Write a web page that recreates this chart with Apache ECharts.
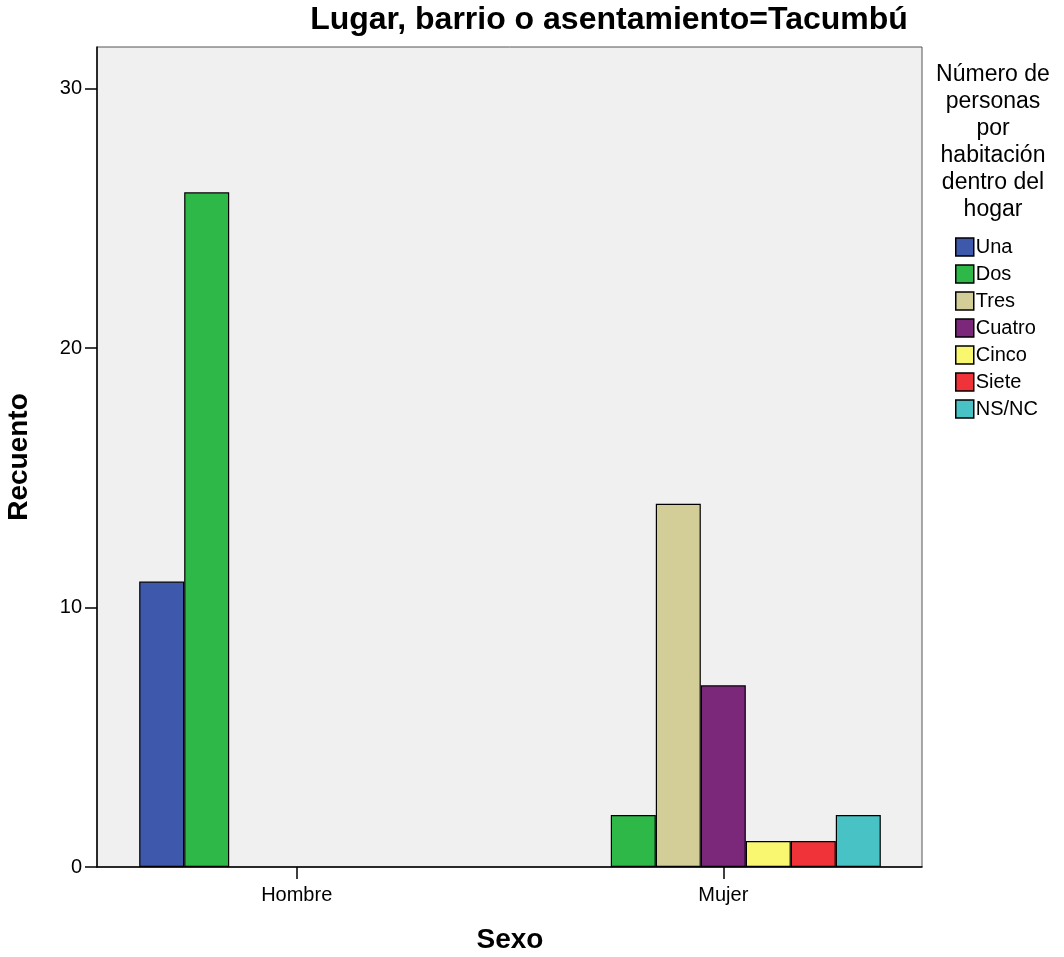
<!DOCTYPE html>
<html>
<head>
<meta charset="utf-8">
<script src="https://cdn.jsdelivr.net/npm/echarts@6/dist/echarts.min.js"></script>
<style>html,body{margin:0;padding:0;background:#fff}#c{width:1064px;height:957px}</style>
</head>
<body>
<div id="c"></div>
<script>
const categories = ['Hombre', 'Mujer'];
const seriesNames = ['Una', 'Dos', 'Tres', 'Cuatro', 'Cinco', 'Siete', 'NS/NC'];
const una = [11, null];
const dos = [26, 2];
const tres = [null, 14];
const cuatro = [null, 7];
const cinco = [null, 1];
const siete = [null, 1];
const nsnc = [null, 2];
const yTicks = [0, 10, 20, 30];
const colors = ['#3e58ac', '#2eb848', '#d3ce97', '#7b287b', '#f9f76f', '#ef3339', '#48c2c5'];
const values = [una, dos, tres, cuatro, cinco, siete, nsnc];

const FONT = 'Liberation Sans, Arial, sans-serif';
const chart = echarts.init(document.getElementById('c'));
chart.setOption({
  animation: false,
  backgroundColor: '#ffffff',
  textStyle: { fontFamily: FONT },
  graphic: [
    { type: 'text', x: 609, y: 4, style: { text: 'Lugar, barrio o asentamiento=Tacumbú', font: 'bold 32px ' + FONT, fill: '#000', align: 'center', textAlign: 'center' } },
    { type: 'text', x: 993, y: 61, style: { text: 'Número de\npersonas\npor\nhabitación\ndentro del\nhogar', font: '23px ' + FONT, lineHeight: 27, fill: '#000', align: 'center', textAlign: 'center' } }
  ],
  legend: {
    orient: 'vertical', left: 950, top: 232, icon: 'rect',
    itemWidth: 18, itemHeight: 18, itemGap: 7,
    itemStyle: { borderColor: '#000', borderWidth: 1.5 },
    textStyle: { fontSize: 20, color: '#000', fontFamily: FONT, padding: [0, 0, 0, -3] },
    data: seriesNames
  },
  grid: [
    { left: 97, right: 142, top: 47, bottom: 90, outerBoundsMode: 'none', containLabel: false, show: true, backgroundColor: '#f0f0f0', borderColor: '#555', borderWidth: 1 },
    { left: 83.4, right: 127.4, top: 47, bottom: 90, outerBoundsMode: 'none', containLabel: false }
  ],
  xAxis: [
    { gridIndex: 0, type: 'value', min: 0, max: 1, axisLine: { show: true, onZero: false, lineStyle: { color: '#000', width: 1.5 } }, axisTick: { show: false }, axisLabel: { show: false }, splitLine: { show: false } },
    { gridIndex: 1, type: 'category', data: categories, axisLine: { show: false }, axisTick: { show: true, alignWithLabel: true, length: 12, lineStyle: { color: '#000', width: 1.5 } }, axisLabel: { fontSize: 20, color: '#000', margin: 18, fontFamily: FONT },
      name: 'Sexo', nameLocation: 'middle', nameGap: 59, nameTextStyle: { fontSize: 28, fontWeight: 'bold', color: '#000', fontFamily: FONT } }
  ],
  yAxis: [
    { gridIndex: 0, type: 'value', min: 0, max: 31.6, interval: 10, axisLine: { show: true, lineStyle: { color: '#000', width: 1.5 } }, axisTick: { show: true, length: 12, lineStyle: { color: '#000', width: 1.5 } },
      axisLabel: { fontSize: 20, color: '#000', margin: 15, fontFamily: FONT, showMaxLabel: false, formatter: v => (yTicks.includes(v) ? String(v) : '') }, splitLine: { show: false },
      name: 'Recuento', nameLocation: 'middle', nameGap: 64, nameTextStyle: { fontSize: 28, fontWeight: 'bold', color: '#000', fontFamily: FONT } },
    { gridIndex: 1, type: 'value', min: 0, max: 31.6, show: false, splitLine: { show: false } }
  ],
  series: seriesNames.map((n, i) => ({
    name: n, type: 'bar', xAxisIndex: 1, yAxisIndex: 1,
    data: values[i], barWidth: 45, barGap: '0%',
    itemStyle: { color: colors[i], borderColor: '#000', borderWidth: 1.2 }
  }))
});
</script>
</body>
</html>
